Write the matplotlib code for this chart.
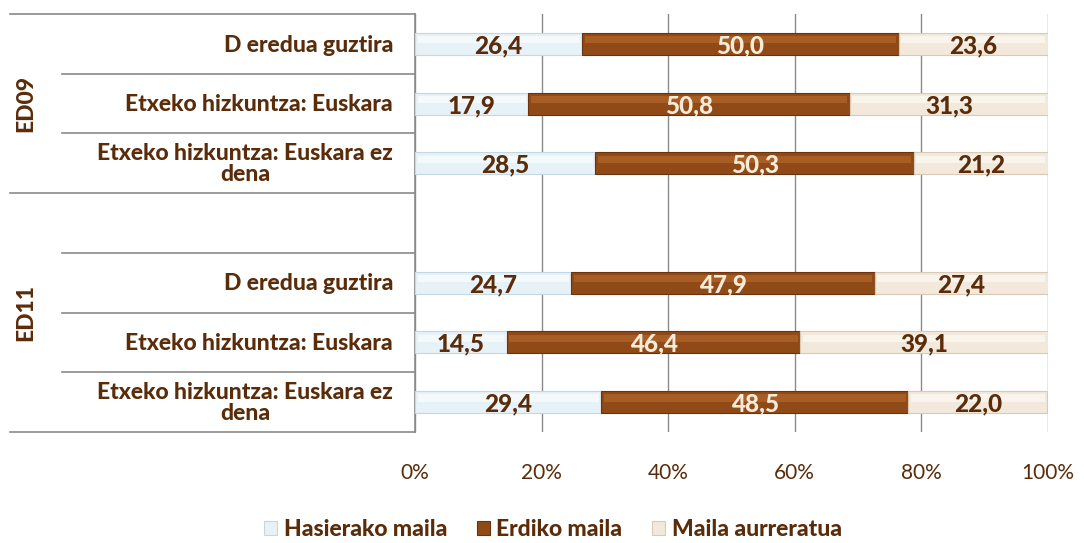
import matplotlib
matplotlib.use("Agg")
import matplotlib.pyplot as plt
from matplotlib.transforms import blended_transform_factory
from matplotlib.patches import Patch

categories = ["D eredua guztira", "Etxeko hizkuntza: Euskara", "Etxeko hizkuntza: Euskara ez\ndena",
              "", "D eredua guztira", "Etxeko hizkuntza: Euskara", "Etxeko hizkuntza: Euskara ez\ndena"]
groups = ["ED09", "ED11"]
hasierako = [26.4, 17.9, 28.5, None, 24.7, 14.5, 29.4]
erdiko = [50.0, 50.8, 50.3, None, 47.9, 46.4, 48.5]
aurreratua = [23.6, 31.3, 21.2, None, 27.4, 39.1, 22.0]
series_names = ["Hasierako maila", "Erdiko maila", "Maila aurreratua"]
xticks = [0, 20, 40, 60, 80, 100]

colors = ["#e6f2f7", "#8f4a17", "#f2e9dc"]
light = ["#f4fafc", "#a85d25", "#f9f4ec"]
edge = ["#c3d8e2", "#6a330e", "#d8cab6"]
txt_col = "#5a2c0a"
lab_col = ["#5a2c0a", "#f6ead8", "#5a2c0a"]
FONT = "Lato"
W = 900

fig = plt.figure(figsize=(10.84, 5.43), dpi=100)
ax = fig.add_axes([415/1084, 1-432/543, 633/1084, 418/543])

series = [hasierako, erdiko, aurreratua]
left = [0.0]*len(categories)
for si, s in enumerate(series):
    for i, v in enumerate(s):
        if v is None:
            continue
        ax.barh(i, v, left=left[i], height=0.37, color=colors[si], edgecolor=edge[si], linewidth=0.8, zorder=3)
        ax.barh(i - 0.07, v - 0.8, left=left[i] + 0.4, height=0.12, color=light[si], linewidth=0, zorder=3.5)
        ax.text(left[i] + v/2, i + 0.03, f"{v:.1f}".replace(".", ","), ha="center", va="center",
                fontsize=17.5, fontweight=W, color=lab_col[si], family=FONT, zorder=4)
        left[i] += v

ax.set_xlim(0, 100)
ax.set_ylim(6.5, -0.5)
ax.set_xticks(xticks)
ax.set_xticklabels([f"{t}%" for t in xticks], fontsize=15, family=FONT, color=txt_col)
ax.tick_params(axis="x", length=0, pad=22)
ax.set_yticks([])
ax.grid(axis="x", color="#8a8a8a", linewidth=1.0, zorder=0)
for sp in ["top", "right", "bottom"]:
    ax.spines[sp].set_visible(False)
ax.spines["left"].set_color("#8a8a8a")
ax.spines["left"].set_linewidth(1.2)

tr = blended_transform_factory(ax.transAxes, ax.transData)
x_full = (10-415)/633
x_inner = (62-415)/633
for b in [-0.5, 0.5, 1.5, 2.5, 3.5, 4.5, 5.5, 6.5]:
    x0 = x_full if b in (-0.5, 2.5, 6.5) else x_inner
    ax.plot([x0, 0], [b, b], transform=tr, color="#8a8a8a", linewidth=1.2, clip_on=False)

lab_x = (393-415)/633
for i, c in enumerate(categories):
    if c:
        ax.text(lab_x, i + 0.02, c, transform=tr, ha="right", va="center", multialignment="center",
                fontsize=16.5, fontweight=W, color=txt_col, family=FONT, linespacing=1.0)

gx = (26-415)/633
ax.text(gx, 1.0, groups[0], transform=tr, rotation=90, ha="center", va="center",
        fontsize=16.5, fontweight=W, color=txt_col, family=FONT)
ax.text(gx, 4.5, groups[1], transform=tr, rotation=90, ha="center", va="center",
        fontsize=16.5, fontweight=W, color=txt_col, family=FONT)

handles = [Patch(facecolor=colors[k], edgecolor=edge[k], linewidth=0.8) for k in range(3)]
leg = fig.legend(handles, series_names, loc="center", bbox_to_anchor=(553/1084, 1-530/543), ncol=3,
                 frameon=False, handlelength=0.55, handleheight=0.55, handletextpad=0.3, columnspacing=1.3,
                 prop={"family": FONT, "weight": W, "size": 16.5})
for t in leg.get_texts():
    t.set_color(txt_col)

fig.savefig("out.png", dpi=100)
